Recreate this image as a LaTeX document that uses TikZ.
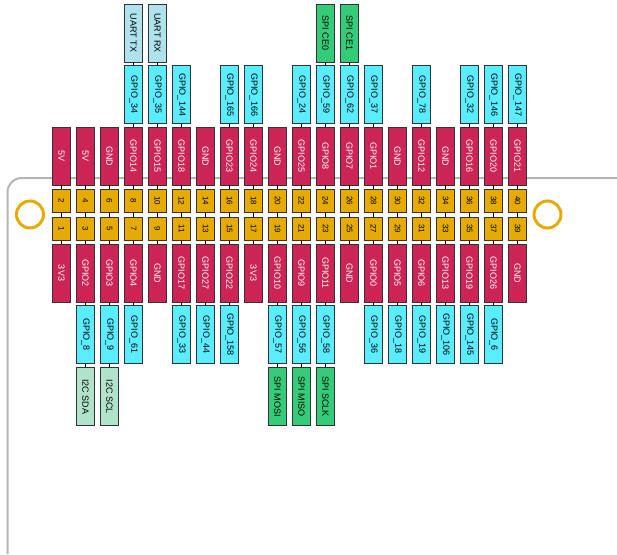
\documentclass[tikz,border=0pt]{standalone}
\usepackage{fontspec}
\setsansfont{Liberation Sans}
\usetikzlibrary{positioning}

\definecolor{pinred}{RGB}{204,36,84}
\definecolor{pinyellow}{RGB}{230,170,0}
\definecolor{gpiocyan}{RGB}{90,236,255}
\definecolor{uartblue}{RGB}{174,226,236}
\definecolor{spigreen}{RGB}{52,204,120}
\definecolor{iicgreen}{RGB}{176,228,202}
\definecolor{boardgrey}{RGB}{180,180,180}

\begin{document}
\begin{tikzpicture}[x=1pt, y=-1pt,
        box/.style={draw=black!80, line width=0.8pt, rotate=-90, minimum width=58pt, minimum height=18.4pt, inner sep=0pt, font=\sffamily\fontsize{9}{10}\selectfont},
        namebox/.style={box, fill=pinred, text=white},
        numbox/.style={box, fill=pinyellow, minimum width=23.5pt, font=\sffamily\fontsize{8}{9}\selectfont},
        gpiobox/.style={box, fill=gpiocyan},
        uartbox/.style={box, fill=uartblue},
        spibox/.style={box, fill=spigreen},
        iicbox/.style={box, fill=iicgreen},
        link/.style={draw=black, line width=0.8pt}]
        \useasboundingbox (0,0) rectangle (617,554);
        % board edge and mounting holes
        \draw[boardgrey, line width=2pt, rounded corners=14pt] (617,178) -- (7.5,178) -- (7.5,554);
        \node[circle, draw=pinyellow, line width=3pt, minimum size=27pt, inner sep=0pt] (holeL) at (30,214.5) {};
        \node[circle, draw=pinyellow, line width=3pt, minimum size=27pt, inner sep=0pt] (holeR) at (547.5,214.5) {};
        % pin numbers
        \foreach \i in {0,...,19} {
            \pgfmathtruncatemacro{\ev}{2*\i+2}
            \pgfmathtruncatemacro{\od}{2*\i+1}
            \node[numbox] (pe\i) at ({61.5+24*\i},200.75) {\ev};
            \node[numbox] (po\i) at ({61.5+24*\i},228.75) {\od};
            \draw[link] (pe\i) -- (po\i);
        }
        % pin names
        \foreach \lab [count=\i from 0] in {5V,5V,GND,GPIO14,GPIO15,GPIO18,GND,GPIO23,GPIO24,GND,GPIO25,GPIO8,GPIO7,GPIO1,GND,GPIO12,GND,GPIO16,GPIO20,GPIO21} {
            \node[namebox] (top\i) at ({61.5+24*\i},156) {\lab};
            \draw[link] (top\i) -- (pe\i);
        }
        \foreach \lab [count=\i from 0] in {3V3,GPIO2,GPIO3,GPIO4,GND,GPIO17,GPIO27,GPIO22,3V3,GPIO10,GPIO9,GPIO11,GND,GPIO0,GPIO5,GPIO6,GPIO13,GPIO19,GPIO26,GND} {
            \node[namebox] (bot\i) at ({61.5+24*\i},273) {\lab};
            \draw[link] (po\i) -- (bot\i);
        }
        % kernel gpio numbers
        \foreach \i/\lab in {3/34,4/35,5/144,7/165,8/166,10/24,11/59,12/62,13/37,15/78,17/32,18/146,19/147} {
            \node[gpiobox] (gt\i) at ({61.5+24*\i},94.75) {GPIO\_\lab};
            \draw[link] (gt\i) -- (top\i);
        }
        \foreach \i/\lab in {1/8,2/9,3/61,5/33,6/44,7/158,9/57,10/56,11/58,13/36,14/18,15/19,16/106,17/145,18/6} {
            \node[gpiobox] (gb\i) at ({61.5+24*\i},334.5) {GPIO\_\lab};
            \draw[link] (bot\i) -- (gb\i);
        }
        % functions
        \foreach \i/\lab in {3/UART TX,4/UART RX} {
            \node[uartbox] (ft\i) at ({61.5+24*\i},33) {\lab};
            \draw[link] (ft\i) -- (gt\i);
        }
        \foreach \i/\lab in {11/SPI CE0,12/SPI CE1} {
            \node[spibox] (ft\i) at ({61.5+24*\i},33) {\lab};
            \draw[link] (ft\i) -- (gt\i);
        }
        \foreach \i/\lab in {1/I2C SDA,2/I2C SCL} {
            \node[iicbox] (fb\i) at ({61.5+24*\i},396.7) {\lab};
            \draw[link] (gb\i) -- (fb\i);
        }
        \foreach \i/\lab in {9/SPI MOSI,10/SPI MISO,11/SPI SCLK} {
            \node[spibox] (fb\i) at ({61.5+24*\i},396.7) {\lab};
            \draw[link] (gb\i) -- (fb\i);
        }
    \end{tikzpicture}
\end{document}
